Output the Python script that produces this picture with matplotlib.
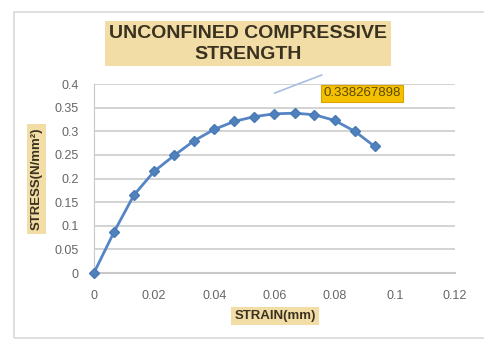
import matplotlib.pyplot as plt
from matplotlib.patches import Rectangle

# strain / stress readings
strain = [0, 0.0067, 0.0133, 0.02, 0.0267, 0.0333, 0.04, 0.0467,
          0.0533, 0.06, 0.0667, 0.0733, 0.08, 0.0867, 0.0933]
stress = [0, 0.087, 0.165, 0.215, 0.249, 0.280, 0.304, 0.321,
          0.331, 0.337, 0.338267898, 0.335, 0.323, 0.300, 0.268]
xticks = [0, 0.02, 0.04, 0.06, 0.08, 0.1, 0.12]
yticks = [0, 0.05, 0.1, 0.15, 0.2, 0.25, 0.3, 0.35, 0.4]
xtick_labels = ['0', '0.02', '0.04', '0.06', '0.08', '0.1', '0.12']
ytick_labels = ['0', '0.05', '0.1', '0.15', '0.2', '0.25', '0.3', '0.35', '0.4']

plt.rcParams['font.family'] = ['Liberation Sans', 'DejaVu Sans']

fig = plt.figure(figsize=(4.84, 3.43), dpi=100)
fig.patches.append(Rectangle((14 / 484, 5 / 343), 480 / 484, 326 / 343,
                             transform=fig.transFigure, fill=False,
                             edgecolor='#d9d9d9', lw=1.2))

ax = fig.add_axes([0.194, 0.204, 0.746, 0.551])
ax.plot(strain, stress, color='#5585c5', lw=2, marker='D', ms=5,
        markerfacecolor='#4f81bd', markeredgecolor='#4a7ab5', zorder=3,
        clip_on=False)

ax.set_xlim(0, 0.12)
ax.set_ylim(0, 0.4)
ax.set_xticks(xticks)
ax.set_xticklabels(xtick_labels)
ax.set_yticks(yticks)
ax.set_yticklabels(ytick_labels)
ax.tick_params(axis='x', length=0, labelsize=9, colors='#666666', pad=12)
ax.tick_params(axis='y', length=0, labelsize=9, colors='#666666', pad=11)
ax.grid(axis='y', color='#d0d0d0', lw=1.3)
ax.set_axisbelow(True)
for side in ['top', 'right']:
    ax.spines[side].set_visible(False)
ax.spines['left'].set_color('#c8c8c8')
ax.spines['bottom'].set_color('#c8c8c8')
ax.spines['bottom'].set_linewidth(1.5)

# label for the peak value with its leader line
peak = max(stress)
ax.plot([0.0601, 0.0757], [0.381, 0.419], color='#a8bde0', lw=1.2, clip_on=False)
ax.text(0.0762, 0.38, f'{peak:.9f}', fontsize=9.5, color='#5a4a00',
        ha='left', va='center',
        bbox=dict(boxstyle='square,pad=0.2', fc='#f5c000', ec='#d9a400', lw=0.8))

fig.text(0.512, 0.872, 'UNCONFINED COMPRESSIVE\nSTRENGTH', ha='center', va='center',
         fontsize=14, fontweight='bold', color='#3a3220', linespacing=1.25,
         bbox=dict(boxstyle='square,pad=0.2', fc='#f3dda6', ec='none'))
fig.text(0.075, 0.478, 'STRESS(N/mm²)', rotation=90, ha='center', va='center',
         fontsize=9.5, fontweight='bold', color='#3a3220',
         bbox=dict(boxstyle='square,pad=0.25', fc='#f3dda6', ec='none'))
fig.text(0.568, 0.079, 'STRAIN(mm)', ha='center', va='center',
         fontsize=9.5, fontweight='bold', color='#3a3220',
         bbox=dict(boxstyle='square,pad=0.25', fc='#f3dda6', ec='none'))

fig.savefig('out.png', dpi=100)
